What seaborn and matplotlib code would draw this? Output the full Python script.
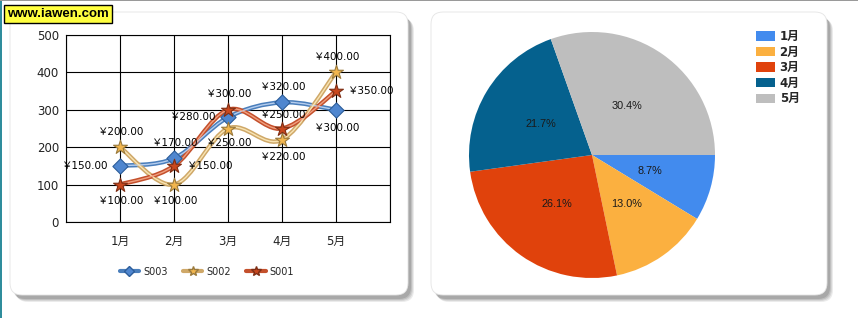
import numpy as np
import pandas as pd
import matplotlib
matplotlib.use("Agg")
import matplotlib.pyplot as plt
import matplotlib.transforms as mtransforms
from matplotlib.patches import FancyBboxPatch, Rectangle, PathPatch, Patch
from matplotlib.path import Path
from matplotlib.lines import Line2D
import seaborn as sns

# ---------------- data ----------------
months = ["1月", "2月", "3月", "4月", "5月"]
series_names = ["S003", "S002", "S001"]
s003 = [150, 170, 280, 320, 300]
s002 = [200, 100, 250, 220, 400]
s001 = [100, 150, 300, 250, 350]
pie_values = [200, 300, 600, 500, 700]
y_ticks = [0, 100, 200, 300, 400, 500]

# ---------------- styles ----------------
line_outer = {"S003": "#4a7ebb", "S002": "#cfa868", "S001": "#c4502c"}
line_inner = {"S003": "#b5cdee", "S002": "#f8e4b4", "S001": "#f0a080"}
mk_face = {"S003": "#4f86cf", "S002": "#f2b64e", "S001": "#c9481e"}
mk_edge = {"S003": "#2c5d9a", "S002": "#9a7a3c", "S001": "#7e2e14"}
mk_shape = {"S003": "D", "S002": "*", "S001": "*"}
mk_size = {"S003": 60, "S002": 110, "S001": 110}
pie_colors = ["#428bee", "#fbb040", "#e0420c", "#05618e", "#bebebe"]

# label offsets in pixels (dx, dy) per series per month
label_off = {
    "S003": [(-36, 0), (0, 15), (-36, 0), (0, 15), (0, -18)],
    "S002": [(0, 15), (0, -16), (0, -14), (0, -17), (0, 15)],
    "S001": [(0, -16), (35, 0), (0, 16), (0, 13), (34, 0)],
}

sns.set_theme(style="white")
plt.rcParams["font.family"] = ["DejaVu Sans", "Noto Sans CJK SC"]

W, H = 858, 318
fig = plt.figure(figsize=(W / 100, H / 100), dpi=100)
fig.patch.set_facecolor("white")
ident = mtransforms.IdentityTransform()


def px_box(x0, ytop, x1, ybot):
    return x0, H - ybot, x1 - x0, ybot - ytop


# panels with shadows
for (x0, yt, x1, yb) in [(10, 12, 408, 295), (431, 12, 827, 295)]:
    bx, by, bw, bh = px_box(x0, yt, x1, yb)
    for i, a in enumerate([0.10, 0.12, 0.15, 0.18]):
        off = 6 - i
        fig.patches.append(FancyBboxPatch((bx + off, by - off - 1), bw, bh,
                                          boxstyle="round,pad=0,rounding_size=12",
                                          transform=ident, facecolor="#404040",
                                          edgecolor="none", alpha=a, zorder=0))
    fig.patches.append(FancyBboxPatch((bx, by), bw, bh,
                                      boxstyle="round,pad=0,rounding_size=12",
                                      transform=ident, facecolor="white",
                                      edgecolor="#e4e4e4", lw=0.6, zorder=1))

# window edges
fig.patches.append(Rectangle((0, 0), 2, H, transform=ident, facecolor="#2f8d9c",
                             edgecolor="none", zorder=2))
fig.patches.append(Rectangle((0, H - 1), W, 1, transform=ident, facecolor="#9a9a9a",
                             edgecolor="none", zorder=2))

# ---------------- line chart ----------------
axL = fig.add_axes([66 / W, (H - 222) / H, 324 / W, 187 / H])
axL.set_facecolor("white")
axL.set_zorder(3)

rows = []
for name, vals in zip(series_names, [s003, s002, s001]):
    for i, v in enumerate(vals):
        rows.append({"series": name, "pos": i + 1, "month": months[i], "value": v})
df = pd.DataFrame(rows)


def smooth_path(xs, ys):
    xs = np.asarray(xs, float)
    ys = np.asarray(ys, float)
    n = len(xs)
    verts = [(xs[0], ys[0])]
    codes = [Path.MOVETO]
    for i in range(n - 1):
        p0 = (xs[max(i - 1, 0)], ys[max(i - 1, 0)])
        p1 = (xs[i], ys[i])
        p2 = (xs[i + 1], ys[i + 1])
        p3 = (xs[min(i + 2, n - 1)], ys[min(i + 2, n - 1)])
        c1 = (p1[0] + (p2[0] - p0[0]) / 6, p1[1] + (p2[1] - p0[1]) / 6)
        c2 = (p2[0] - (p3[0] - p1[0]) / 6, p2[1] - (p3[1] - p1[1]) / 6)
        verts += [c1, c2, p2]
        codes += [Path.CURVE4] * 3
    return Path(verts, codes)


for name in series_names:
    sub = df[df.series == name]
    path = smooth_path(sub.pos, sub.value)
    axL.add_patch(PathPatch(path, facecolor="none", edgecolor=line_outer[name],
                            lw=3.2, zorder=3, capstyle="round"))
    axL.add_patch(PathPatch(path, facecolor="none", edgecolor=line_inner[name],
                            lw=1.0, zorder=3.1, capstyle="round"))

for name in series_names:
    sub = df[df.series == name]
    sns.scatterplot(data=sub, x="pos", y="value", marker=mk_shape[name],
                    s=mk_size[name], color=mk_face[name], edgecolor=mk_edge[name],
                    linewidth=0.8, ax=axL, zorder=5, legend=False)

for name in series_names:
    sub = df[df.series == name]
    for (p, v), (dx, dy) in zip(zip(sub.pos, sub.value), label_off[name]):
        axL.annotate(f"￥{v:.2f}", (p, v), xytext=(dx, dy), textcoords="offset pixels",
                     ha="center", va="center", fontsize=7.5, color="black", zorder=6,
                     annotation_clip=False)

axL.set_xlim(0, 6)
axL.set_ylim(0, 500)
axL.set_xticks(range(0, 7))
axL.set_xticklabels([""] + months + [""])
axL.set_yticks(y_ticks)
axL.set_yticklabels([str(t) for t in y_ticks])
axL.set_xlabel("")
axL.set_ylabel("")
axL.grid(True, color="black", lw=0.8)
axL.set_axisbelow(True)
for sp in axL.spines.values():
    sp.set_visible(True)
    sp.set_color("black")
    sp.set_linewidth(0.8)
axL.tick_params(axis="both", which="both", direction="out", length=3, width=0.8,
                color="black", labelsize=8.5, labelcolor="#222222")
axL.tick_params(axis="x", pad=6)
axL.tick_params(axis="y", pad=2)

handles = [Line2D([], [], color=line_outer[n], lw=3, marker=mk_shape[n],
                  markersize=5 if n == "S003" else 7, markerfacecolor=mk_face[n],
                  markeredgecolor=mk_edge[n]) for n in series_names]
axL.legend(handles, series_names, loc="center", bbox_to_anchor=(0.435, -0.265),
           ncol=3, frameon=False, fontsize=7, handlelength=2.0, handletextpad=0.4,
           columnspacing=1.6)

# ---------------- pie chart ----------------
cx, cy, r = 592, 155, 123
axP = fig.add_axes([(cx - r) / W, (H - cy - r) / H, 2 * r / W, 2 * r / H])
axP.set_zorder(3)
wedges, texts, autotexts = axP.pie(pie_values, colors=pie_colors, startangle=0,
                                   counterclock=False, autopct="%.1f%%",
                                   pctdistance=0.49, radius=1,
                                   wedgeprops={"linewidth": 0},
                                   textprops={"fontsize": 7.8, "color": "#1a1a1a",
                                              "family": ["Liberation Sans", "DejaVu Sans"]})
axP.set_xlim(-1, 1)
axP.set_ylim(-1, 1)
axP.set_aspect("equal")
axP.axis("off")

pie_handles = [Patch(facecolor=c, edgecolor="none") for c in pie_colors]
fig.legend(pie_handles, months, loc="upper left",
           bbox_to_anchor=(756 / W, (H - 30) / H), frameon=False,
           borderpad=0, borderaxespad=0, handlelength=1.6, handleheight=0.85,
           handletextpad=0.4, labelspacing=0.22,
           prop={"size": 8.5, "weight": "bold",
                 "family": ["DejaVu Sans", "Noto Sans CJK SC"]})

# watermark
fig.text(7 / W, (H - 14) / H, "www.iawen.com", ha="left", va="center",
         fontsize=9.5, fontweight="bold", family=["Liberation Sans", "DejaVu Sans"],
         color="black", zorder=10,
         bbox=dict(boxstyle="square,pad=0.25", facecolor="#ffff40", edgecolor="black",
                   lw=1.0))

fig.savefig("out.png", dpi=100)
